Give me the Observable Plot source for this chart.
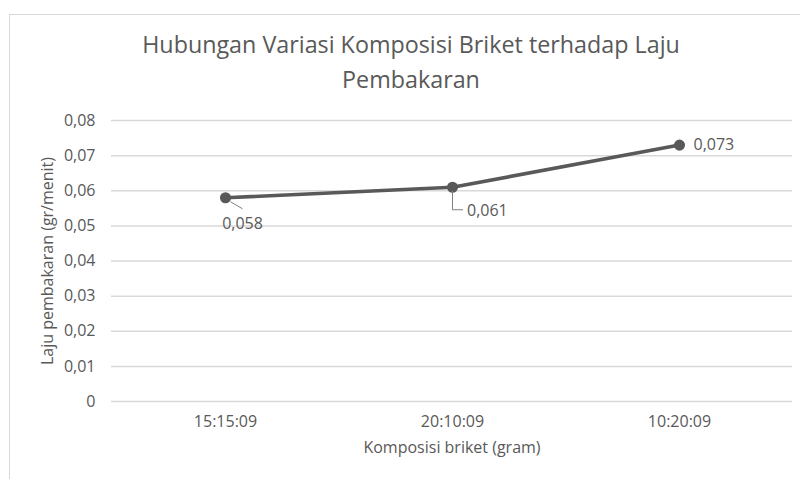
<!DOCTYPE html>
<html>
<head>
<meta charset="utf-8">
<script src="https://cdn.jsdelivr.net/npm/d3@7"></script>
<script src="https://cdn.jsdelivr.net/npm/@observablehq/plot@0.6"></script>
<style>
  html, body { margin: 0; padding: 0; background: #fff; }
  #wrap { position: relative; width: 800px; height: 479px; overflow: hidden; background: #fff; font-family: "Open Sans", sans-serif; }
  #frame { position: absolute; left: 9px; top: 14px; width: 900px; height: 700px; border: 1px solid #d9d9d9; box-sizing: border-box; }
  #title { position: absolute; left: 0; top: 27px; width: 822px; text-align: center; font-size: 23.3px; line-height: 35px; color: #595959; }
  #chart { position: absolute; left: 0; top: 100px; }
</style>
</head>
<body>
<div id="wrap">
  <div id="frame"></div>
  <div id="title">Hubungan Variasi Komposisi Briket terhadap Laju<br>Pembakaran</div>
  <div id="chart"></div>
</div>
<script>
const categories = ["15:15:09", "20:10:09", "10:20:09"];
const values = [0.058, 0.061, 0.073];
const valueLabels = ["0,058", "0,061", "0,073"];
const yTicks = [0, 0.01, 0.02, 0.03, 0.04, 0.05, 0.06, 0.07, 0.08];
const xTitle = "Komposisi briket (gram)";
const yTitle = "Laju pembakaran (gr/menit)";

const data = categories.map((c, i) => ({cat: c, v: values[i], label: valueLabels[i]}));
const fmt = d => d === 0 ? "0" : d3.format(".2f")(d).replace(".", ",");
const grey = "#595959";

const chart = Plot.plot({
  width: 800,
  height: 379,
  marginTop: 20,
  marginBottom: 78,
  marginLeft: 111,
  marginRight: 8,
  style: {fontFamily: "'Open Sans', sans-serif", fontSize: "16px", color: grey, background: "transparent"},
  x: {type: "point", domain: categories, padding: 0.5, label: null, tickSize: 0, tickPadding: 14},
  y: {domain: [0, 0.08], ticks: yTicks, tickFormat: fmt, label: null, tickSize: 0, tickPadding: 16},
  marks: [
    Plot.ruleY(yTicks, {stroke: "#d9d9d9", strokeWidth: 1.5}),
    Plot.line(data, {x: "cat", y: "v", stroke: grey, strokeWidth: 3.6}),
    Plot.dot(data, {x: "cat", y: "v", r: 4.8, fill: grey, stroke: grey}),
    // leader lines
    Plot.ruleX([data[1]], {x: "cat", y1: "v", y2: "v", insetTop: 4, insetBottom: -22.5, stroke: "#7f7f7f", strokeWidth: 1}),
    Plot.ruleY([data[1]], {y: "v", x1: "cat", x2: "cat", dy: 22.5, insetRight: -11, stroke: "#7f7f7f", strokeWidth: 1}),
    Plot.text([data[0]], {x: "cat", y: "v", text: "label", dx: 17, dy: 26, textAnchor: "middle", fill: grey, fontSize: 16}),
    Plot.text([data[1]], {x: "cat", y: "v", text: "label", dx: 14.5, dy: 24, textAnchor: "start", fill: grey, fontSize: 16}),
    Plot.text([data[2]], {x: "cat", y: "v", text: "label", dx: 14, dy: 0, textAnchor: "start", fill: grey, fontSize: 16}),
    Plot.text([yTitle], {frameAnchor: "left", rotate: -90, dx: -64, textAnchor: "middle", fill: grey, fontSize: 16}),
    Plot.text([xTitle], {frameAnchor: "bottom", dy: 51, textAnchor: "middle", fill: grey, fontSize: 16})
  ]
});
document.getElementById("chart").appendChild(chart);

// diagonal leader for the first label, placed from the rendered dot position
const dots = d3.select(chart).selectAll("g[aria-label=dot] circle").nodes();
if (dots.length) {
  const c = dots[0];
  const cx = +c.getAttribute("cx"), cy = +c.getAttribute("cy");
  const tr = c.getAttribute("transform");
  let ox = 0, oy = 0;
  if (tr) { const m = tr.match(/translate\(([-\d.]+),\s*([-\d.]+)\)/); if (m) { ox = +m[1]; oy = +m[2]; } }
  d3.select(chart).append("line")
    .attr("x1", cx + ox + 5.5).attr("y1", cy + oy + 4.5)
    .attr("x2", cx + ox + 17.5).attr("y2", cy + oy + 11.5)
    .attr("stroke", "#7f7f7f").attr("stroke-width", 1);
}
</script>
</body>
</html>
